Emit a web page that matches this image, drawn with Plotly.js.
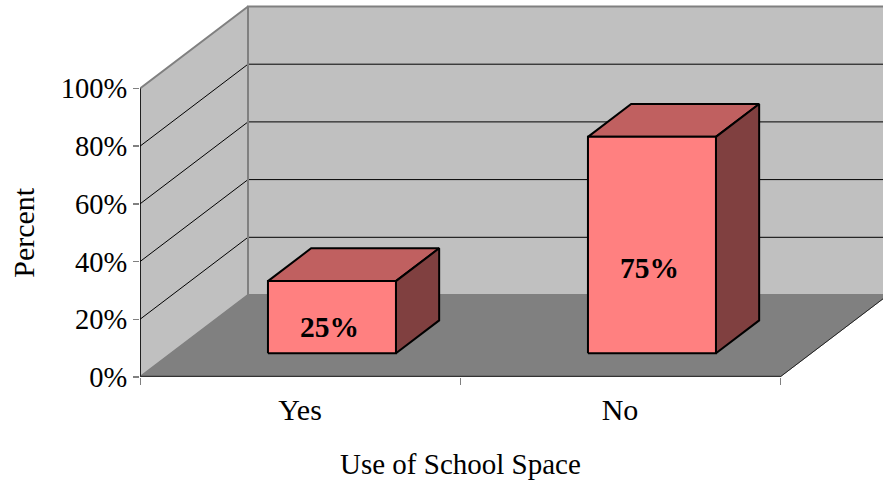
<!DOCTYPE html>
<html>
<head>
<meta charset="utf-8">
<script src="https://cdn.plot.ly/plotly-3.0.1.min.js"></script>
<style>html,body{margin:0;padding:0;background:#fff;overflow:hidden}</style>
</head>
<body>
<div id="chart" style="width:883px;height:485px"></div>
<script>
const categories = ['Yes', 'No'];
const values = [25, 75];
const valueLabels = ['25%', '75%'];
const yTicks = [0, 20, 40, 60, 80, 100];
const yTickLabels = ['0%', '20%', '40%', '60%', '80%', '100%'];
const xTitle = 'Use of School Space';
const yTitle = 'Percent';

const FONT = '"Liberation Serif", "Times New Roman", serif';
const W = 883, H = 485, L = 140, B = 108;
const UNIT_X = 320, UNIT_Y = 2.885;
const DX = 108 / UNIT_X, DY = 82 / UNIT_Y;   // oblique depth in axis units
const BAR_W = 0.4, D0 = 0.29, D1 = 0.69, BAR_SHIFT = 0.002;

const px = (x, d) => x + d * DX;
const py = (v, d) => v + d * DY;
function poly(pts, fill, lineColor, lineWidth, clip) {
  const xs = pts.map(p => px(p[0], p[2]));
  const ys = pts.map(p => py(p[1], p[2]));
  const t = {type: 'scatter', mode: 'lines', x: xs, y: ys, hoverinfo: 'skip', showlegend: false,
    line: {color: lineColor, width: lineWidth, simplify: false}, cliponaxis: clip !== false};
  if (fill) { t.fill = 'toself'; t.fillcolor = fill; }
  return t;
}

const traces = [];
// walls
traces.push(poly([[0,0,1],[2,0,1],[2,100,1],[0,100,1],[0,0,1]], '#C0C0C0', '#808080', 2));
traces.push(poly([[0,0,0],[0,0,1],[0,100,1],[0,100,0],[0,0,0]], '#C0C0C0', '#808080', 2));
// grid lines
yTicks.filter(v => v > 0 && v < 100).forEach(v => {
  traces.push(poly([[0,v,0],[0,v,1],[2,v,1]], null, '#000000', 1));
});
// re-stroke the wall corner above the grid lines
traces.push(poly([[0,0,1],[0,100,1]], null, '#808080', 2));
// floor
traces.push(poly([[0,0,0],[2,0,0],[2,0,1],[0,0,1],[0,0,0]], '#808080', '#808080', 1));
traces.push(poly([[2,0,0],[2,0,1]], null, '#222222', 1));
// bars
categories.forEach((c, i) => {
  const x0 = i + 0.5 - BAR_W / 2 + BAR_SHIFT, x1 = x0 + BAR_W, v = values[i];
  traces.push(poly([[x0,v,D0],[x1,v,D0],[x1,v,D1],[x0,v,D1],[x0,v,D0]], '#C06060', '#000000', 2));
  traces.push(poly([[x1,0,D0],[x1,0,D1],[x1,v,D1],[x1,v,D0],[x1,0,D0]], '#804040', '#000000', 2));
  traces.push(poly([[x0,0,D0],[x1,0,D0],[x1,v,D0],[x0,v,D0],[x0,0,D0]], '#FF8080', '#000000', 2));
});
// front axis lines
traces.push(poly([[0,0,0],[0,100,0]], null, '#000000', 1.5, false));
traces.push(poly([[0,0,0],[2,0,0]], null, '#333333', 2.5, false));
// value labels
traces.push({type: 'scatter', mode: 'text', hoverinfo: 'skip', showlegend: false, cliponaxis: false,
  x: categories.map((c, i) => px(i + 0.5, D0) - 0.006),
  y: values.map(v => py(v * 0.41 - 2.1, D0)),
  text: valueLabels, textposition: 'middle center',
  textfont: {family: FONT, size: 29.5, color: '#000000', weight: 700}});

const layout = {
  width: W, height: H, showlegend: false,
  paper_bgcolor: '#FFFFFF', plot_bgcolor: '#FFFFFF',
  font: {family: FONT, size: 28, color: '#000000'},
  margin: {l: L, r: 0, t: 0, b: B, pad: 0},
  xaxis: {
    range: [0, (W - L) / UNIT_X], fixedrange: true, showgrid: false, zeroline: false, showline: false,
    tickmode: 'array', tickvals: categories.map((c, i) => i + 0.5), ticktext: categories,
    ticks: '', tickfont: {family: FONT, size: 30}, ticklabelstandoff: 12,
    minor: {tickmode: 'array', tickvals: [0, 1, 2], ticks: 'outside', ticklen: 7, tickwidth: 1, tickcolor: '#808080', showgrid: false}
  },
  yaxis: {
    range: [0, (H - B) / UNIT_Y], fixedrange: true, showgrid: false, zeroline: false, showline: false,
    tickmode: 'array', tickvals: yTicks, ticktext: yTickLabels,
    ticks: 'outside', ticklen: 6, tickwidth: 1.5, tickcolor: '#808080',
    tickfont: {family: FONT, size: 28.5}
  },
  annotations: [
    {text: xTitle, xref: 'x', x: 1, yref: 'paper', y: (H - B - 464) / (H - B), yanchor: 'middle', xanchor: 'center',
     showarrow: false, font: {family: FONT, size: 29}},
    {text: yTitle, xref: 'paper', x: (24 - L) / (W - L), yref: 'y', y: 50, yanchor: 'middle', xanchor: 'center',
     textangle: -90, showarrow: false, font: {family: FONT, size: 30}}
  ]
};
Plotly.newPlot('chart', traces, layout, {staticPlot: true, displayModeBar: false});
</script>
</body>
</html>
